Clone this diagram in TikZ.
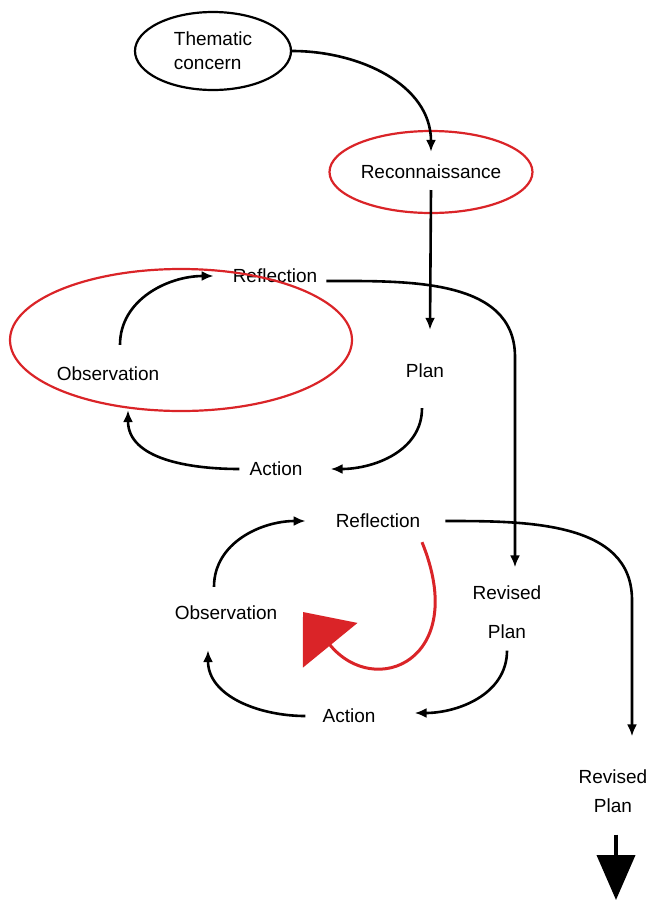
\documentclass[tikz,border=0pt]{standalone}
\usepackage{fontspec}
\setmainfont{Liberation Sans}
\usepackage{tikz}
\usetikzlibrary{calc}
\usetikzlibrary{arrows.meta}
\usetikzlibrary{shapes.geometric}
\definecolor{alizarin}{RGB}{218, 36, 40}

\begin{document}
\begin{tikzpicture}[x=1pt, y=1pt,
        lbl/.style={inner sep=0pt, font=\fontsize{19}{24}\selectfont, align=center},
        bubble/.style={ellipse, draw, line width=2.2pt},
        flow/.style={line width=2.6pt, -{Latex[length=12pt, width=10pt]}}]
            \useasboundingbox                                                  (0,0) rectangle (650,-903);
            % Start
            \node[lbl, bubble, black, minimum width=156pt, minimum height=78pt, align=left] (them)  at (213,-51)  {Thematic\\concern};
            \node[lbl, bubble, alizarin, text=black, minimum width=203pt, minimum height=82pt] (recon) at (431,-172) {Reconnaissance};
            % First cycle
            \node[lbl] (ref1)  at (275,-276) {Reflection};
            \node[lbl] (plan1) at (425,-371) {Plan};
            \node[lbl] (act1)  at (276,-469) {Action};
            \node[lbl] (obs1)  at (108,-374) {Observation};
            % Second cycle
            \node[lbl] (ref2)  at (378,-521) {Reflection};
            \node[lbl] (rp1)   at (507,-612) {Revised\\[15pt]Plan};
            \node[lbl] (act2)  at (349,-716) {Action};
            \node[lbl] (obs2)  at (226,-613) {Observation};
            % Next
            \node[lbl] (rp2)   at (613,-791) {Revised\\[5pt]Plan};
            \coordinate (bend1) at (515,-357);
            \coordinate (bend2) at (632,-600);
            \coordinate (next)  at (616,-900);
            \coordinate (hint)  at (303,-612);
            % Links
            \draw[flow] (them.east) to[out=0, in=90] ([yshift=-22pt]recon.north);
            \draw[flow] ([yshift=-18pt]recon.center) -- ([shift={(5,34)}]plan1.north);
            \draw[flow] ([shift={(9,-5)}]ref1.east) to[out=0, in=90] (bend1) -- ([shift={(8,18)}]rp1.north);
            \draw[flow] ([xshift=25pt]ref2.east) to[out=0, in=90] (bend2) -- ([shift={(19,33)}]rp2.north);
            % Loop one
            \draw[flow] ([shift={(12,22)}]obs1.north)  to[out=90,  in=180] ([xshift=-19pt]ref1.west);
            \draw[flow] ([shift={(-3,-30)}]plan1.south) to[out=-90, in=0]  ([xshift=28pt]act1.east);
            \draw[flow] ([xshift=-10pt]act1.west)      to[out=180, in=-90] ([shift={(20,-29)}]obs1.south);
            % Loop two
            \draw[flow] ([shift={(-12,19)}]obs2.north) to[out=90,  in=180] ([xshift=-30pt]ref2.west);
            \draw[flow] ([yshift=-12pt]rp1.south)      to[out=-90, in=0]  ([shift={(39,3)}]act2.east);
            \draw[flow] ([xshift=-17pt]act2.west)      to[out=180, in=-90] ([shift={(-18,-30)}]obs2.south);
            % Highlights
            \draw[alizarin, line width=2.2pt]                                  (181,-340) ellipse [x radius=171, y radius=71];
            \draw[alizarin, line width=3pt, -{Triangle[length=43pt, width=70pt]}]
                 ([shift={(44,-14)}]ref2.south) .. controls (470,-660) and (375,-700) .. (hint);
            \draw[line width=4pt, -{Triangle[length=45pt, width=38pt]}]        ([shift={(3,-22)}]rp2.south) -- (next);
        \end{tikzpicture}
\end{document}
